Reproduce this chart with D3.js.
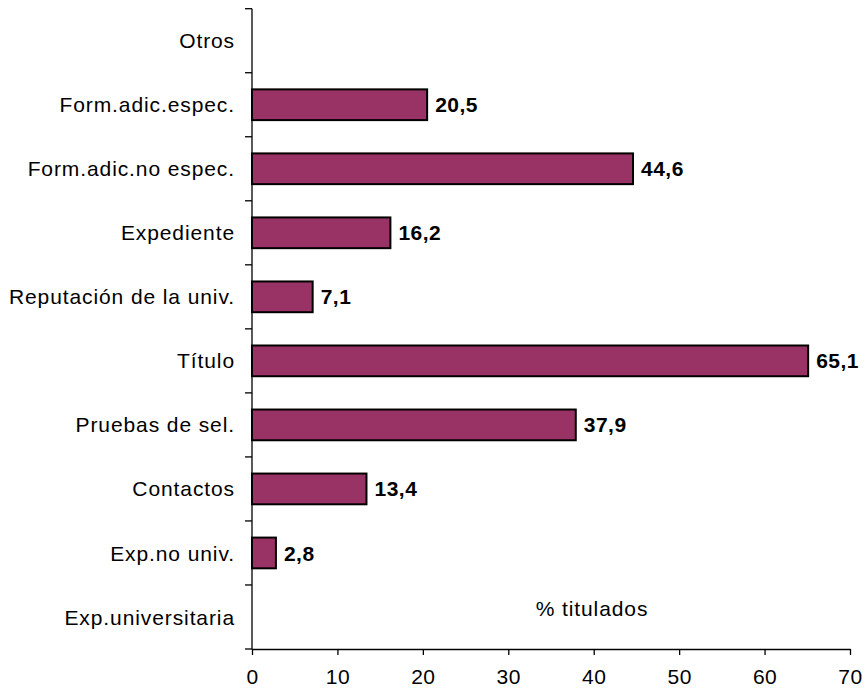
<!DOCTYPE html>
<html><head><meta charset="utf-8">
<script src="https://cdn.jsdelivr.net/npm/d3@7"></script>
<style>body{margin:0;background:#fff;} text{font-family:"Liberation Sans",Arial,sans-serif;}</style>
</head><body>
<svg id="c" width="867" height="695"></svg>
<script>
const categories = ["Otros","Form.adic.espec.","Form.adic.no espec.","Expediente","Reputación de la univ.","Título","Pruebas de sel.","Contactos","Exp.no univ.","Exp.universitaria"];
const values = [null,20.5,44.6,16.2,7.1,65.1,37.9,13.4,2.8,null];
const xTicks = [0,10,20,30,40,50,60,70];
const axisTitle = "% titulados";

(function(){
const svg = d3.select("#c");
const mL = 252, mR = 850, mT = 8.7, mB = 649;
const x = d3.scaleLinear().domain([0,70]).range([mL,mR]);
const y = d3.scaleBand().domain(categories).range([mT,mB]).paddingInner(0.52).paddingOuter(0.26);

const data = categories.map((c,i)=>({c, v: values[i]})).filter(d=>d.v!=null);
svg.selectAll("rect.bar").data(data).enter().append("rect")
  .attr("x", x(0)).attr("y", d=>y(d.c))
  .attr("width", d=>x(d.v)-x(0)).attr("height", y.bandwidth())
  .attr("fill","#993366").attr("stroke","#000").attr("stroke-width",2);

svg.selectAll("text.val").data(data).enter().append("text")
  .attr("x", d=>x(d.v)+8).attr("y", d=>y(d.c)+y.bandwidth()/2)
  .attr("dy","0.36em").attr("font-weight","bold").attr("font-size",21).attr("letter-spacing",0.5)
  .text(d=>d.v.toFixed(1).replace(".",","));

const step = (mB-mT)/categories.length;
svg.append("line").attr("x1",mL).attr("x2",mL).attr("y1",mT).attr("y2",mB).attr("stroke","#000").attr("stroke-width",1.3);
d3.range(categories.length+1).forEach(i=>{
  svg.append("line").attr("x1",mL-7).attr("x2",mL).attr("y1",mT+i*step).attr("y2",mT+i*step).attr("stroke","#000").attr("stroke-width",1.3);
});
svg.selectAll("text.cat").data(categories).enter().append("text")
  .attr("x", 235).attr("y", (d,i)=>mT+(i+0.5)*step).attr("dy","0.36em")
  .attr("text-anchor","end").attr("font-size",21).attr("letter-spacing",0.9).text(d=>d);

const xa = svg.append("g").attr("transform",`translate(0,${mB})`)
  .call(d3.axisBottom(x).tickValues(xTicks).tickSize(6).tickPadding(14).tickSizeOuter(0));
xa.select(".domain").attr("stroke","#000").attr("stroke-width",1.3);
xa.selectAll(".tick line").attr("stroke","#000").attr("stroke-width",1.3);
xa.selectAll(".tick text").attr("font-size",21).attr("letter-spacing",0.5).attr("font-family","Liberation Sans, Arial, sans-serif").attr("fill","#000");

svg.append("text").attr("x",592).attr("y",608).attr("dy","0.36em").attr("text-anchor","middle").attr("font-size",21).attr("letter-spacing",0.9).text(axisTitle);
})();
</script>
</body></html>
